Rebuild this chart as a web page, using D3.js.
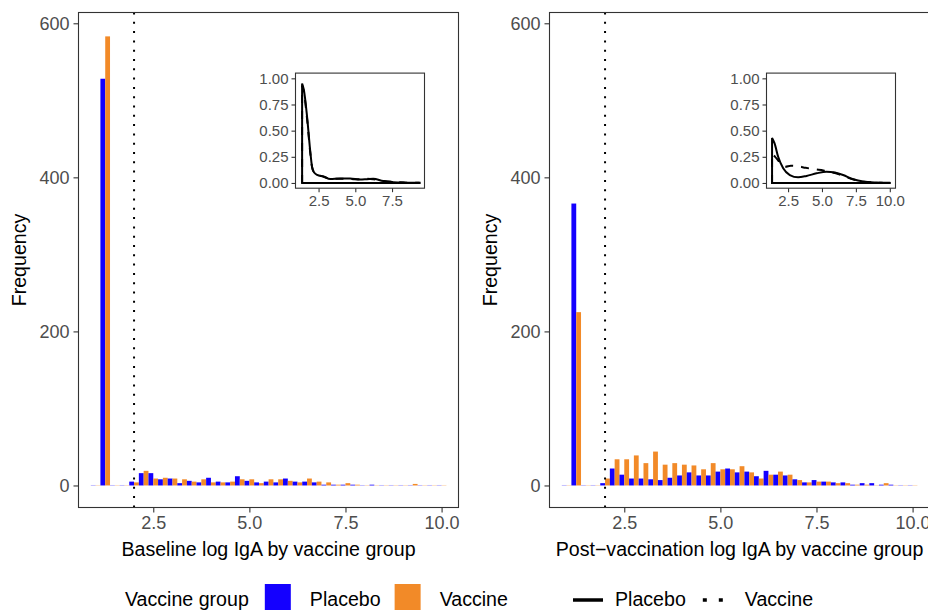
<!DOCTYPE html>
<html>
<head>
<meta charset="utf-8">
<script src="https://cdn.jsdelivr.net/npm/d3@7"></script>
<style>
  body { margin: 0; background: #fff; }
  svg { display: block; font-family: "Liberation Sans", Arial, sans-serif; }
</style>
</head>
<body>
<div id="chart"></div>
<script>
// histogram bins (centres, width 0.25)
const binCenters = [1.0, 1.25, 1.5, 1.75, 2.0, 2.25, 2.5, 2.75, 3.0, 3.25, 3.5, 3.75,
  4.0, 4.25, 4.5, 4.75, 5.0, 5.25, 5.5, 5.75, 6.0, 6.25, 6.5, 6.75, 7.0, 7.25, 7.5, 7.75,
  8.0, 8.25, 8.5, 8.75, 9.0, 9.25, 9.5, 9.75, 10.0];
const binWidth = 0.25;

const groups = ["Placebo", "Vaccine"];

// counts per bin
const basePlacebo = [0, 528, 0, 0, 5, 16, 16, 8, 9, 3, 6, 4, 10, 5, 4, 12, 6, 4, 5, 4, 9, 5, 5, 4,
  1, 1, 1, 1, 0, 1, 0, 0, 0, 0, 0, 0, 0];
const baseVaccine = [0, 583, 0, 0, 4, 19, 9, 10, 9, 8, 5, 8, 4, 4, 5, 8, 8, 3, 8, 8, 6, 4, 9, 5,
  4, 1, 3, 1, 0, 0, 0, 0, 0, 2, 0, 0, 0];
const postPlacebo = [0, 366, 0, 0, 3, 22, 14, 9, 9, 8, 7, 10, 13, 17, 13, 13, 18, 22, 17, 18, 12, 19, 14, 13,
  8, 4, 7, 5, 4, 4, 1, 3, 3, 1, 1, 0, 0];
const postVaccine = [0, 225, 0, 0, 9, 34, 34, 39, 29, 44, 27, 29, 27, 26, 21, 29, 21, 21, 25, 17, 9, 14, 18, 14,
  7, 4, 5, 5, 3, 3, 1, 1, 0, 3, 0, 0, 0];

// density curves for the insets, [x, density]
const baseDensPlacebo = [[1.38, 0.95], [1.5, 0.89], [1.72, 0.63], [1.95, 0.28], [2.06, 0.15], [2.2, 0.1],
  [2.4, 0.078], [2.84, 0.062], [3.29, 0.038], [3.97, 0.042], [4.65, 0.042], [5.32, 0.032], [5.8, 0.036],
  [6.22, 0.04], [6.9, 0.018], [7.57, 0.008], [8.4, 0.003], [9.3, 0.001]];
const baseDensVaccine = [[1.38, 0.93], [1.5, 0.87], [1.72, 0.61], [1.95, 0.27], [2.06, 0.15], [2.2, 0.1],
  [2.4, 0.08], [2.84, 0.06], [3.29, 0.04], [3.97, 0.04], [4.65, 0.038], [5.32, 0.035], [5.8, 0.04],
  [6.22, 0.036], [6.9, 0.02], [7.57, 0.01], [8.3, 0.004], [9.38, 0.002]];
const postDensPlacebo = [[1.32, 0.43], [1.5, 0.38], [1.77, 0.25], [2.14, 0.14], [2.63, 0.076], [3.24, 0.054],
  [3.86, 0.067], [4.6, 0.092], [5.33, 0.108], [5.95, 0.1], [6.56, 0.076], [7.3, 0.035], [8.04, 0.013],
  [9.02, 0.004], [10.0, 0.001]];
const postDensVaccine = [[1.32, 0.28], [1.55, 0.25], [1.8, 0.21], [2.1, 0.17], [2.3, 0.155], [2.7, 0.165],
  [3.2, 0.16], [3.8, 0.145], [4.5, 0.13], [5.1, 0.12], [5.6, 0.105], [6.2, 0.085], [6.8, 0.055],
  [7.4, 0.03], [8.0, 0.013], [8.7, 0.006], [9.4, 0.002]];

const xTicks = [2.5, 5.0, 7.5, 10.0];
const yTicks = [0, 200, 400, 600];
const insetYTicks = [0, 0.25, 0.5, 0.75, 1.0];
const cutoff = 2.0;

const width = 928;
const height = 610;

const fillScale = d3.scaleOrdinal().domain(groups).range(["#1400ff", "#f28a28"]);

const svg = d3
  .select("#chart")
  .append("svg")
  .attr("width", width)
  .attr("height", height);

function drawPanel(dx, placebo, vaccine, title, densP, densV, insetXDomain, insetXTicks) {
  const g = svg.append("g").attr("transform", `translate(${dx},0)`);

  const x = d3.scaleLinear().domain([0.555, 10.44]).range([78.5, 458.5]);
  const y = d3.scaleLinear().domain([-28.6, 614]).range([507.5, 12.5]);

  const bars = [];
  binCenters.forEach((c, i) => {
    bars.push({ group: "Placebo", x0: c - binWidth / 2, x1: c, n: placebo[i] });
    bars.push({ group: "Vaccine", x0: c, x1: c + binWidth / 2, n: vaccine[i] });
  });

  g.selectAll("rect.bar")
    .data(bars)
    .join("rect")
    .attr("class", "bar")
    .attr("x", (d) => x(d.x0))
    .attr("width", (d) => x(d.x1) - x(d.x0))
    .attr("y", (d) => (d.n > 0 ? y(d.n) : y(0) - 0.5))
    .attr("height", (d) => (d.n > 0 ? y(0) - y(d.n) : 1))
    .attr("fill", (d) => fillScale(d.group))
    .attr("fill-opacity", (d) => (d.n > 0 ? 1 : 0.25));

  // cutoff line
  g.append("line")
    .attr("x1", x(cutoff))
    .attr("x2", x(cutoff))
    .attr("y1", 12.5)
    .attr("y2", 507.5)
    .attr("stroke", "black")
    .attr("stroke-width", 2)
    .attr("stroke-dasharray", "2,7.3");

  // panel border
  g.append("rect")
    .attr("x", 78.5)
    .attr("y", 12.5)
    .attr("width", 380)
    .attr("height", 495)
    .attr("fill", "none")
    .attr("stroke", "#333")
    .attr("stroke-width", 1.1);

  const xAxis = g
    .append("g")
    .attr("transform", "translate(0,507.5)")
    .call(d3.axisBottom(x).tickValues(xTicks).tickFormat(d3.format(".1f")).tickSize(5).tickPadding(4));
  const yAxis = g
    .append("g")
    .attr("transform", "translate(78.5,0)")
    .call(d3.axisLeft(y).tickValues(yTicks).tickSize(5).tickPadding(4));
  [xAxis, yAxis].forEach((a) => {
    a.select(".domain").remove();
    a.selectAll(".tick line").attr("stroke", "#333").attr("stroke-width", 1.1);
    a.selectAll(".tick text")
      .attr("fill", "#4d4d4d")
      .attr("font-size", 18)
      .attr("font-family", "Liberation Sans, Arial, sans-serif");
  });

  g.append("text")
    .attr("x", (78.5 + 458.5) / 2)
    .attr("y", 556)
    .attr("text-anchor", "middle")
    .attr("font-size", 19.6)
    .text(title);

  g.append("text")
    .attr("transform", "translate(26,260) rotate(-90)")
    .attr("text-anchor", "middle")
    .attr("font-size", 19.6)
    .text("Frequency");

  // inset density plot
  const ix = d3.scaleLinear().domain(insetXDomain).range([295.5, 424.5]);
  const iy = d3.scaleLinear().domain([-0.05, 1.05]).range([188.2, 73.1]);

  g.append("rect")
    .attr("x", 295.5)
    .attr("y", 73.1)
    .attr("width", 129)
    .attr("height", 115.1)
    .attr("fill", "white")
    .attr("stroke", "#333")
    .attr("stroke-width", 1.1);

  const line = d3
    .line()
    .x((d) => ix(d[0]))
    .y((d) => iy(d[1]))
    .curve(d3.curveMonotoneX);

  const outline = (pts) => {
    const first = pts[0][0];
    const last = pts[pts.length - 1][0];
    return `M${ix(first)},${iy(0)}L${line(pts).slice(1)}L${ix(last)},${iy(0)}Z`;
  };

  g.append("path")
    .attr("d", outline(densV))
    .attr("fill", "none")
    .attr("stroke", "black")
    .attr("stroke-width", 2)
    .attr("stroke-dasharray", "8,8");
  g.append("path")
    .attr("d", outline(densP))
    .attr("fill", "none")
    .attr("stroke", "black")
    .attr("stroke-width", 2);

  const ixAxis = g
    .append("g")
    .attr("transform", "translate(0,188.2)")
    .call(d3.axisBottom(ix).tickValues(insetXTicks).tickFormat(d3.format(".1f")).tickSize(4).tickPadding(3));
  const iyAxis = g
    .append("g")
    .attr("transform", "translate(295.5,0)")
    .call(d3.axisLeft(iy).tickValues(insetYTicks).tickFormat(d3.format(".2f")).tickSize(4).tickPadding(3));
  [ixAxis, iyAxis].forEach((a) => {
    a.select(".domain").remove();
    a.selectAll(".tick line").attr("stroke", "#333").attr("stroke-width", 1.1);
    a.selectAll(".tick text")
      .attr("fill", "#4d4d4d")
      .attr("font-size", 15)
      .attr("font-family", "Liberation Sans, Arial, sans-serif");
  });
}

drawPanel(0, basePlacebo, baseVaccine, "Baseline log IgA by vaccine group",
  baseDensPlacebo, baseDensVaccine, [0.93, 9.71], [2.5, 5.0, 7.5]);
drawPanel(471, postPlacebo, postVaccine, "Post\u2212vaccination log IgA by vaccine group",
  postDensPlacebo, postDensVaccine, [0.91, 10.42], [2.5, 5.0, 7.5, 10.0]);

// legends
const legend = svg.append("g").attr("font-size", 19.6);
const baseY = 606;
let lx = 125;
const lt = legend.append("text").attr("x", lx).attr("y", baseY).text("Vaccine group");
lx += lt.node().getComputedTextLength() + 16;
groups.forEach((gr) => {
  legend.append("rect")
    .attr("x", lx)
    .attr("y", 584)
    .attr("width", 26)
    .attr("height", 26)
    .attr("fill", fillScale(gr));
  lx += 26 + 19;
  const t = legend.append("text").attr("x", lx).attr("y", baseY).text(gr);
  lx += t.node().getComputedTextLength() + 14;
});

lx = 573;
groups.forEach((gr, i) => {
  legend.append("line")
    .attr("x1", lx)
    .attr("x2", lx + 30)
    .attr("y1", 600)
    .attr("y2", 600)
    .attr("stroke", "black")
    .attr("stroke-width", 3.5)
    .attr("stroke-dasharray", i === 0 ? null : "4,12");
  lx += 30 + 12;
  const t = legend.append("text").attr("x", lx).attr("y", baseY).text(gr);
  lx += t.node().getComputedTextLength() + 17;
});
</script>
</body>
</html>
